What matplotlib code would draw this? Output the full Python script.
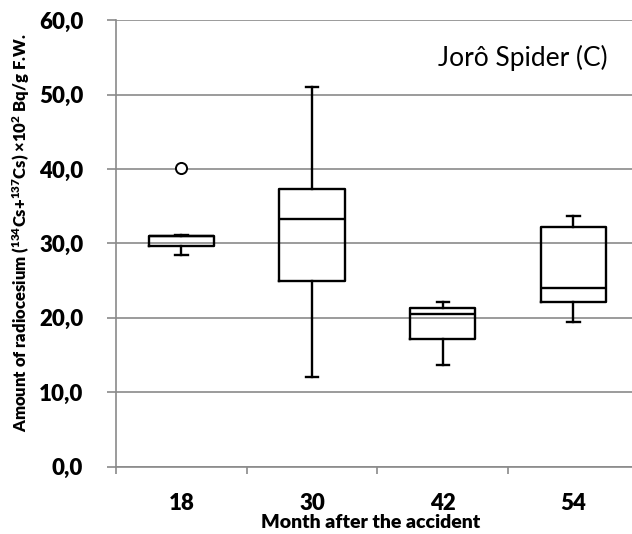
import matplotlib.pyplot as plt
import numpy as np

plt.rcParams['font.family'] = ['Lato', 'DejaVu Sans']
plt.rcParams['mathtext.default'] = 'regular'

# box statistics (x10^2 Bq/g F.W.)
months = ['18', '30', '42', '54']
whislo = [28.4, 12.0, 13.7, 19.4]
q1 = [29.6, 25.0, 17.1, 22.1]
med = [31.0, 33.3, 20.5, 24.0]
q3 = [31.0, 37.3, 21.3, 32.2]
whishi = [31.1, 51.1, 22.2, 33.7]
fliers = [[40.2], [], [], []]

W, H = 632, 534
fig = plt.figure(figsize=(W / 100, H / 100), dpi=100)
ax = fig.add_axes([116 / W, (H - 466.7) / H, (W - 116) / W, (466.7 - 20.3) / H])

stats = []
for i in range(len(months)):
    stats.append({'label': months[i], 'whislo': whislo[i], 'q1': q1[i], 'med': med[i],
                  'q3': q3[i], 'whishi': whishi[i], 'fliers': fliers[i]})

pos = np.arange(1, len(months) + 1)
lw = 1.7
ax.bxp(stats, positions=pos, widths=0.5, capwidths=0.095, patch_artist=False,
       boxprops=dict(color='black', linewidth=lw),
       medianprops=dict(color='black', linewidth=lw),
       whiskerprops=dict(color='black', linewidth=lw),
       capprops=dict(color='black', linewidth=lw),
       flierprops=dict(marker='o', markersize=8, markerfacecolor='white',
                       markeredgecolor='black', markeredgewidth=1.4),
       zorder=3)

gray = '#8a8a8a'
bold = 800
ax.set_ylim(0, 60)
ax.set_xlim(0.5, 0.5 + (W - 116) / 130.7)
ax.set_yticks(np.arange(0, 61, 10))
ax.set_yticklabels([f'{v:.1f}'.replace('.', ',') for v in np.arange(0, 61, 10)],
                   fontsize=16, fontweight=bold)
ax.grid(axis='y', color=gray, linewidth=1.2, zorder=0)
ax.set_axisbelow(True)
ax.tick_params(axis='y', direction='out', length=6.5, width=1.2, color=gray, pad=17)

ax.set_xticks(pos)
ax.set_xticklabels(months, fontsize=16, fontweight=bold)
ax.set_xticks(np.arange(0.5, len(months) + 0.5, 1.0), minor=True)
ax.tick_params(axis='x', which='major', length=0, pad=19)
ax.tick_params(axis='x', which='minor', direction='out', length=5, width=1.2, color=gray)

for s in ['top', 'right']:
    ax.spines[s].set_visible(False)
for s in ['left', 'bottom']:
    ax.spines[s].set_color(gray)
    ax.spines[s].set_linewidth(1.2)

ax.text(608 / W, (H - 58) / H, 'Jorô Spider (C)', transform=fig.transFigure,
        ha='right', va='center', fontsize=19)

fig.text(371 / W, (H - 523) / H, 'Month after the accident', ha='center', va='center',
         fontsize=14, fontweight=bold)
fig.text(21 / W, (H - 232.5) / H,
         r'Amount of radiocesium ($^{134}$Cs+$^{137}$Cs) ×10$^{2}$ Bq/g F.W.',
         rotation=90, ha='center', va='center', fontsize=12, fontweight=bold)

fig.savefig('out.png', dpi=100)
